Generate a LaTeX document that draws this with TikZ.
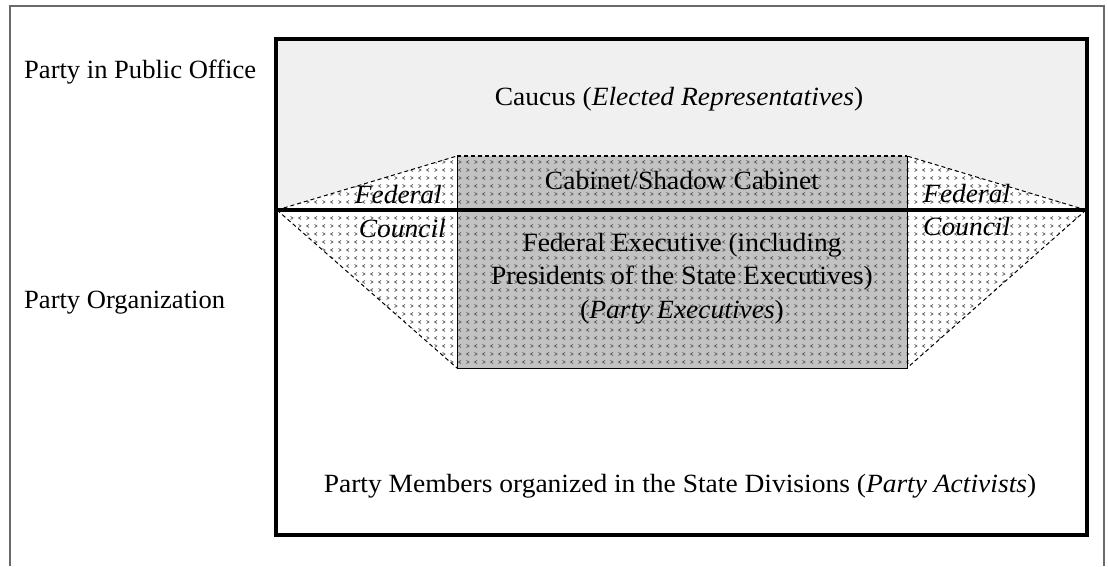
\documentclass[tikz,border=0pt]{standalone}
\usepackage{fontspec}
\setmainfont{Liberation Serif}[FakeStretch=1.045]
\newfontfamily\sidefont{Liberation Serif}[FakeStretch=1.01]
\usetikzlibrary{patterns}
\pgfdeclarepatternformonly{chev}{\pgfpoint{-1pt}{-1pt}}{\pgfpoint{17pt}{17pt}}{\pgfpoint{16pt}{16pt}}{%
  \pgfsetlinewidth{0.75pt}%
  \pgfpathmoveto{\pgfpoint{5pt}{5.5pt}}\pgfpathlineto{\pgfpoint{2.5pt}{4pt}}\pgfpathlineto{\pgfpoint{5pt}{2.5pt}}%
  \pgfpathmoveto{\pgfpoint{10.5pt}{5.5pt}}\pgfpathlineto{\pgfpoint{13pt}{4pt}}\pgfpathlineto{\pgfpoint{10.5pt}{2.5pt}}%
  \pgfpathmoveto{\pgfpoint{2.5pt}{13.5pt}}\pgfpathlineto{\pgfpoint{5pt}{12pt}}\pgfpathlineto{\pgfpoint{2.5pt}{10.5pt}}%
  \pgfpathmoveto{\pgfpoint{13pt}{13.5pt}}\pgfpathlineto{\pgfpoint{10.5pt}{12pt}}\pgfpathlineto{\pgfpoint{13pt}{10.5pt}}%
  \pgfusepath{stroke}%
}
\definecolor{topgray}{HTML}{F0F0F0}
\definecolor{boxgray}{HTML}{C2C2C2}
\definecolor{framegray}{HTML}{6A6A6A}
\definecolor{patgray}{HTML}{5A5A5A}
\tikzset{
  lbl/.style={inner sep=0pt, font=\fontsize{26.3}{33}\selectfont},
  sidelbl/.style={inner sep=0pt, font=\sidefont\fontsize{26.3}{33}\selectfont},
  thickframe/.style={line width=4pt, line join=miter},
  divider/.style={line width=3.5pt},
  trapdash/.style={dash pattern=on 4pt off 3pt, line width=1pt},
  chevfill/.style={pattern=chev, pattern color=patgray},
}
\begin{document}
\begin{tikzpicture}[x=1pt,y=-1pt]
\useasboundingbox (0,0) rectangle (1108,566);
% outer frame (open at the bottom)
\draw[framegray, line width=1.6pt] (10,566) -- (10,6) -- (1104,6) -- (1104,566);
% upper region fill
\fill[topgray] (275,39) rectangle (1087,210);
% trapezoid (Federal Council)
\coordinate (tl) at (277,210);
\coordinate (tr) at (1086,210);
\coordinate (a) at (457,156);
\coordinate (b) at (907,156);
\coordinate (c) at (907,368);
\coordinate (d) at (457,368);
\fill[white] (tl) -- (a) -- (b) -- (tr) -- (c) -- (d) -- cycle;
\fill[chevfill] (tl) -- (a) -- (b) -- (tr) -- (c) -- (d) -- cycle;
\draw[trapdash] (tl) -- (a);
\draw[trapdash] (tl) -- (d);
\draw[trapdash] (tr) -- (b);
\draw[trapdash] (tr) -- (c);
% central box
\fill[boxgray] (a) rectangle (c);
\fill[chevfill] (a) rectangle (c);
\draw[line width=1pt] (a) -- (d) -- (c) -- (b);
\draw[line width=1.5pt, dash pattern=on 4pt off 3pt] (a) -- (b);
% divider
\draw[divider] (275,210) -- (1087,210);
% inner frame
\draw[thickframe] (275.5,38.5) rectangle (1087,535);
% labels
\node[sidelbl, anchor=base west] (ppo) at (24,78) {Party in Public Office};
\node[sidelbl, anchor=base west] (porg) at (24,308) {Party Organization};
\node[lbl, anchor=base] (caucus) at (679,105) {Caucus (\textit{Elected Representatives})};
\node[lbl, anchor=base] (cab) at (682,189) {Cabinet/Shadow Cabinet};
\node[lbl, anchor=base] (fe1) at (682,251) {Federal Executive (including};
\node[lbl, anchor=base] (fe2) at (682,284) {Presidents of the State Executives)};
\node[lbl, anchor=base] (fe3) at (682,318) {(\textit{Party Executives})};
\node[lbl, anchor=base east] (fedl) at (442,203) {\textit{Federal}};
\node[lbl, anchor=base east] (coul) at (446,237) {\textit{Council}};
\node[lbl, anchor=base west] (fedr) at (923,202) {\textit{Federal}};
\node[lbl, anchor=base west] (cour) at (923,235) {\textit{Council}};
\node[lbl, anchor=base] (members) at (680,492) {Party Members organized in the State Divisions (\textit{Party Activists})};
\end{tikzpicture}
\end{document}
